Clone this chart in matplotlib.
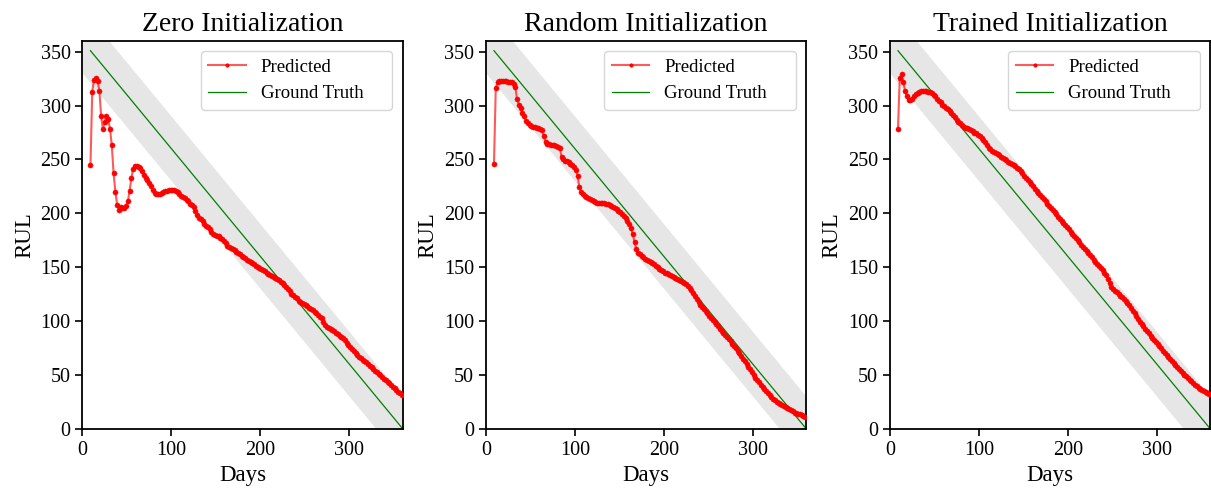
import numpy as np
import matplotlib
matplotlib.use("Agg")
import matplotlib.pyplot as plt

plt.rcParams["font.family"] = ["Liberation Serif", "DejaVu Serif"]

# Prediction days (every second day of the test run)
days = np.arange(9, 361, 2)

titles = ["Zero Initialization", "Random Initialization", "Trained Initialization"]

pred_zero = [
    245, 313, 324, 325.5, 323, 314, 290, 278, 285, 290,
    288, 278, 263, 237, 220, 208, 203.5, 206, 205, 205,
    207, 211, 221, 233, 241, 244, 244, 243, 242, 239,
    235.5, 233, 230.5, 228, 225, 221.5, 219, 218, 218, 218,
    219, 219.5, 220.3, 221, 221.5, 221.8, 221.6, 221.3, 220.5, 219.5,
    218, 216.5, 215.5, 214, 212.5, 211, 209, 208, 206, 202,
    198.5, 196, 195, 193, 190.5, 188.5, 187, 185, 183, 181,
    180, 179, 178.5, 177.5, 176, 174, 172, 170, 168.5, 167.5,
    166.5, 165.5, 164, 163, 162, 160.5, 159.5, 158.5, 157, 156,
    155, 154, 152.5, 151.5, 150.5, 149.5, 148.5, 147, 146, 145,
    144, 143, 142, 141, 140, 139, 138, 136, 135, 133,
    131.5, 129.5, 127.5, 125.5, 124, 122, 121, 119, 117.5, 116.5,
    115.5, 114.5, 113.5, 112.5, 111.5, 110, 108.5, 107, 105.5, 104,
    102.5, 99, 96, 94.5, 93.5, 92.5, 92, 91, 89, 88,
    86, 85, 84, 82, 80, 78, 76, 74, 72, 70,
    68.5, 67, 65.5, 64, 62.5, 61.5, 60, 58.5, 57, 55.5,
    54, 52.5, 51, 49.5, 48, 46.5, 45, 43.5, 42, 40.5,
    39, 37.5, 36, 34.5, 33, 31.5,
]

pred_random = [
    246, 316, 322, 322.5, 322.5, 322.5, 322.5, 322.5, 322.3, 322,
    321.5, 320.5, 317, 306, 301, 297.5, 293, 290, 286, 284,
    282, 281, 280.5, 280, 279.5, 279, 278.5, 277, 272, 266,
    264.5, 264, 263.8, 263.5, 263, 262.5, 262, 261, 252, 250,
    249, 248.5, 247.5, 246, 244.5, 243, 240, 235, 224, 220,
    218, 216.5, 215.5, 214, 213, 212, 211, 210.5, 210, 210,
    209.8, 209.5, 209.3, 209, 208.5, 208, 207, 206, 205, 204,
    202.5, 201, 199.5, 197.5, 195.5, 193, 190, 186, 181, 173,
    167, 163.5, 162, 160.5, 159, 158, 157, 156, 155, 154,
    153, 151.5, 150, 148.5, 147, 146, 145, 144.5, 144, 143,
    142, 141, 140, 139, 138, 137, 136, 135, 134, 132.5,
    131, 129, 126, 123, 120, 117.5, 115, 113, 111, 109,
    107, 105, 103, 101, 99, 97, 95, 93, 91, 89,
    87, 85, 83, 81, 79, 77, 75, 72.5, 70, 67.5,
    65, 62.5, 60, 57.5, 55, 52.5, 50, 47.5, 45, 43,
    41, 39, 37, 35, 33, 31, 29.5, 28, 26.5, 25,
    24, 23, 22, 21, 20, 19, 18, 17, 16, 15,
    14.5, 14, 13.5, 13, 12, 11,
]

pred_trained = [
    278, 326, 329, 322, 314, 309, 305.5, 305, 306, 308.5,
    310.5, 312, 313, 313.5, 313.5, 313.5, 313.2, 313, 312.5, 311.5,
    310, 308.5, 306.5, 304.5, 303, 301, 299.5, 298, 296.5, 295,
    293, 291, 289, 287, 285, 283.5, 282, 280.5, 279.5, 279,
    278, 277, 276, 275, 274.5, 273, 271.5, 270, 268, 266,
    263.5, 261, 259.5, 258, 257, 256, 255, 254, 252.5, 251,
    250.5, 249.5, 248, 247, 245.5, 244.5, 243.5, 242.5, 241, 239,
    237, 235, 233, 231, 229, 227, 225, 223, 221, 219,
    217, 215, 213, 211, 209, 207, 205, 203, 201, 199,
    197, 195, 193, 191, 189, 187, 185, 183, 181, 179,
    177, 175, 173, 171, 169, 167, 165, 163, 161, 159,
    157, 155, 153, 151, 149, 147, 145, 142.5, 139, 135,
    131.5, 129.5, 128, 126.5, 125, 123.5, 122, 120.5, 118.5, 116.5,
    114.5, 112, 109.5, 107, 104.5, 102, 99.5, 97, 95, 92.5,
    90.5, 88.5, 86.5, 84.5, 82.5, 80.5, 78.5, 76.5, 74.5, 72.5,
    70.5, 68.5, 66.5, 64.5, 62.5, 61, 59, 57, 55.5, 53.5,
    52, 50, 48.5, 47, 45.5, 44, 42.5, 41, 39.5, 38,
    37, 36, 35, 34, 33, 32,
]

predictions = [pred_zero, pred_random, pred_trained]

# Ground truth RUL line and its tolerance band
gt_days = [9, 360]
gt_rul = [351, 0]
band_days = [0, 360]
band_upper = [390, 30]
band_lower = [330, -30]

fig = plt.figure(figsize=(12.11, 4.90), dpi=100)
lefts = [0.0681, 0.4013, 0.7349]
width, bottom, height = 0.2644, 0.1251, 0.7912

for left, title, pred in zip(lefts, titles, predictions):
    assert len(pred) == len(days)
    ax = fig.add_axes([left, bottom, width, height])
    ax.fill_between(band_days, band_lower, band_upper, color="#e6e6e6",
                    linewidth=0, zorder=1)
    ax.plot(days, pred, color=(1, 0, 0, 0.65), linewidth=1.5, marker="o",
            markersize=3.7, markerfacecolor="red", markeredgecolor="red",
            markeredgewidth=0.3, label="Predicted", zorder=3)
    ax.plot(gt_days, gt_rul, color="green", linewidth=0.9,
            label="Ground Truth", zorder=2)
    ax.set_xlim(0, 360)
    ax.set_ylim(0, 360)
    ax.set_xticks([0, 100, 200, 300])
    ax.set_yticks(np.arange(0, 351, 50))
    ax.tick_params(labelsize=14.5, length=5, width=1.2, direction="out")
    for sp in ax.spines.values():
        sp.set_linewidth(1.3)
    ax.set_title(title, fontsize=20, pad=7)
    ax.set_xlabel("Days", fontsize=16.5, labelpad=4)
    ax.set_ylabel("RUL", fontsize=16.5, labelpad=4)
    leg = ax.legend(loc="upper left", bbox_to_anchor=(0.370, 0.0, 0.597, 0.974),
                    mode="expand", borderaxespad=0, fontsize=13.5,
                    fancybox=True, framealpha=0.8, edgecolor="#cccccc",
                    handlelength=2.0)
    for h in leg.legend_handles:
        h.set_markersize(2.6)

fig.savefig("out.png", dpi=100)
